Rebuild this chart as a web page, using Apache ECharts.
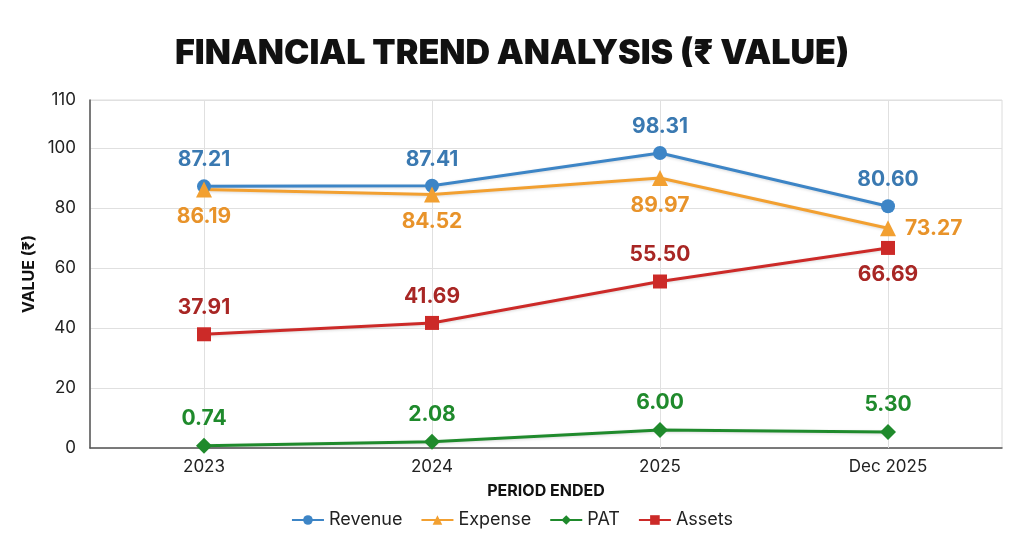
<!DOCTYPE html>
<html>
<head>
<meta charset="utf-8">
<style>
  html, body { margin: 0; padding: 0; background: #fff; }
  #chart { width: 1024px; height: 541px; }
</style>
<script src="https://cdn.jsdelivr.net/npm/echarts@6/dist/echarts.min.js"></script>
</head>
<body>
<div id="chart"></div>
<script>
const periods = ['2023', '2024', '2025', 'Dec 2025']
const revenue = [87.21, 87.41, 98.31, 80.60]
const expense = [86.19, 84.52, 89.97, 73.27]
const pat = [0.74, 2.08, 6.00, 5.30]
const assets = [37.91, 41.69, 55.50, 66.69]
// the top edge of the plot is printed as "110" in the source chart
const yTop = 116
const yTopLabel = '110'

const font = 'Inter, "Noto Sans", "DejaVu Sans", sans-serif'

// label helper, positions can differ by point
function makeData(values, positions) {
  return values.map((v, i) => ({
    value: v,
    label: positions && positions[i] ? { position: positions[i] } : undefined
  }))
}

function serie(name, values, color, labelColor, symbol, size, pos, perPoint) {
  return {
    name: name,
    type: 'line',
    data: makeData(values, perPoint),
    symbol: symbol,
    symbolSize: size,
    lineStyle: { width: 3, color: color, shadowColor: 'rgba(0,0,0,0.15)', shadowBlur: 3, shadowOffsetY: 1 },
    itemStyle: { color: color },
    label: {
      show: true,
      position: pos,
      distance: 9,
      color: labelColor,
      fontFamily: font,
      fontWeight: 'bold',
      fontSize: 21,
      formatter: p => p.value.toFixed(2)
    },
    z: 3
  }
}

const chart = echarts.init(document.getElementById('chart'))

const series = [
  serie('Revenue', revenue, '#3d85c6', '#3a79b1', 'circle', 14, 'top'),
  serie('Expense', expense, '#f2a031', '#e8932a', 'triangle', 16, 'bottom', [null, null, null, 'right']),
  serie('PAT', pat, '#1f8a2c', '#1f8a2c', 'diamond', 16, 'top'),
  serie('Assets', assets, '#cc2a28', '#a82624', 'rect', 14, 'top', [null, null, null, 'bottom'])
]

// vertical gridlines through each period
series[0].markLine = {
  silent: true,
  symbol: 'none',
  label: { show: false },
  lineStyle: { color: '#e0e0e0', width: 1, type: 'solid' },
  data: periods.map(p => ({ xAxis: p })),
  z: 1
}

chart.setOption({
  animation: false,
  title: {
    text: 'FINANCIAL TREND ANALYSIS (₹ VALUE)',
    left: 'center',
    top: 32,
    textStyle: { fontFamily: font, fontWeight: 900, fontSize: 34, color: '#111' }
  },
  grid: {
    left: 90,
    right: 22,
    top: 100,
    bottom: 93,
    show: true,
    borderColor: '#dcdcdc',
    borderWidth: 1
  },
  legend: {
    bottom: 7,
    itemWidth: 32,
    itemHeight: 12,
    itemGap: 18,
    textStyle: { fontFamily: font, fontSize: 18, color: '#222' },
    data: ['Revenue', 'Expense', 'PAT', 'Assets']
  },
  xAxis: {
    type: 'category',
    data: periods,
    name: 'PERIOD ENDED',
    nameLocation: 'middle',
    nameGap: 35,
    nameTextStyle: { fontFamily: font, fontWeight: 'bold', fontSize: 16, color: '#111' },
    axisLine: { lineStyle: { color: '#555', width: 1.5 } },
    axisTick: { show: false },
    axisLabel: { fontFamily: font, fontSize: 17, color: '#222', margin: 10 },
    splitLine: { show: false }
  },
  yAxis: {
    type: 'value',
    min: 0,
    max: yTop,
    interval: 20,
    name: 'VALUE (₹)',
    nameLocation: 'middle',
    nameGap: 36,
    nameTextStyle: { fontFamily: font, fontWeight: 'bold', fontSize: 16, color: '#111' },
    axisLine: { show: true, lineStyle: { color: '#555', width: 1.5 } },
    axisTick: { show: false },
    axisLabel: {
      fontFamily: font, fontSize: 17, color: '#222', margin: 14,
      formatter: v => (v === yTop ? yTopLabel : String(v))
    },
    splitLine: { lineStyle: { color: '#e0e0e0' } }
  },
  series: series
})
</script>
</body>
</html>
